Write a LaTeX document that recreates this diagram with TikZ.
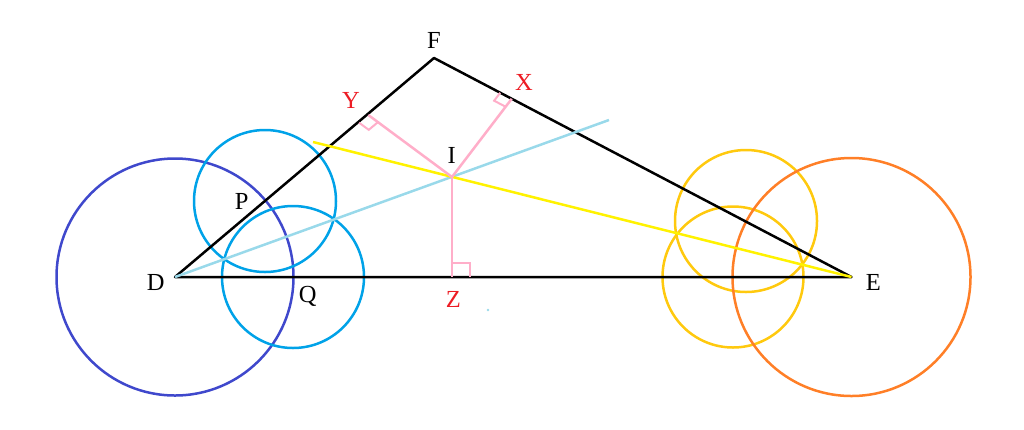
\documentclass[tikz,border=0pt]{standalone}
\usepackage{fontspec}
\setmainfont{Liberation Serif}
\usetikzlibrary{calc}
\definecolor{cindigo}{RGB}{63,72,204}
\definecolor{ccyan}{RGB}{0,162,232}
\definecolor{clblue}{RGB}{153,217,234}
\definecolor{cyellow}{RGB}{255,242,0}
\definecolor{cgold}{RGB}{255,201,14}
\definecolor{corange}{RGB}{255,127,39}
\definecolor{cred}{RGB}{237,28,36}
\definecolor{cpink}{RGB}{255,174,201}
\begin{document}
\begin{tikzpicture}[x=1pt,y=-1pt,line width=2.5pt,
  lbl/.style={font=\fontsize{24.5}{28}\selectfont,inner sep=0pt},
  redlbl/.style={lbl,text=cred},
  arc1/.style={draw=cindigo},
  arc2/.style={draw=ccyan},
  arc3/.style={draw=cgold},
  arc4/.style={draw=corange},
  side/.style={draw=black,line cap=round,line join=round},
  perp/.style={draw=cpink},
  rmark/.style={draw=cpink,line width=2pt}]
\useasboundingbox (0,0) rectangle (1024,429);
% points
\coordinate (D) at (175,277);
\coordinate (E) at (851.5,277);
\coordinate (F) at (434,58);
\coordinate (I) at (452,177);
\coordinate (Y) at (368.3,115);
\coordinate (X) at (511.7,98.8);
\coordinate (Z) at (452,277);
\coordinate (P) at (265,201);
\coordinate (Q) at (293,277);
\coordinate (EP) at (746,221);
\coordinate (EQ) at (733,277);
\coordinate (BD) at (609,120);
\coordinate (BE) at (313,142);
% circles
\draw[arc1] (D) circle (118.5pt);
\draw[arc2] (P) circle (71pt);
\draw[arc2] (Q) circle (71pt);
\draw[arc3] (EP) circle (71pt);
\draw[arc3] (EQ) circle (70.5pt);
\draw[arc4] (E) circle (119pt);
% triangle
\draw[side] (E) -- (D) -- (F) -- cycle;
% bisectors
\draw[clblue] (D) -- (BD);
\draw[cyellow] (BE) -- (E);
% perpendiculars
\draw[perp] (I) -- (Y);
\draw[perp] (I) -- (X);
\draw[perp] (I) -- (Z);
% right angle marks
\coordinate (Ya) at ($(Y)!12pt!(D)$);
\coordinate (Yb) at ($(Y)!12pt!(I)$);
\draw[rmark] (Ya) -- ($(Ya)+(Yb)-(Y)$) -- (Yb);
\coordinate (Xa) at ($(X)!13pt!(F)$);
\coordinate (Xb) at ($(X)!10pt!(I)$);
\draw[rmark] (Xa) -- ($(Xa)+(Xb)-(X)$) -- (Xb);
\coordinate (Za) at ($(Z)!18pt!(E)$);
\coordinate (Zb) at ($(Z)!14pt!(I)$);
\draw[rmark] (Za) -- ($(Za)+(Zb)-(Z)$) -- (Zb);
% dot
\fill[clblue] (488,310) circle (1.3pt);
% labels
\node[lbl] (lF) at (434,40) {F};
\node[redlbl] (lY) at (351,100.5) {Y};
\node[redlbl] (lX) at (524,82.5) {X};
\node[lbl] (lI) at (451.7,155) {I};
\node[lbl] (lP) at (241.7,201.5) {P};
\node[lbl] (lQ) at (307.7,296) {Q};
\node[lbl] (lD) at (155.7,282.5) {D};
\node[lbl] (lE) at (873.3,282) {E};
\node[redlbl] (lZ) at (453.3,299.3) {Z};
\end{tikzpicture}
\end{document}
